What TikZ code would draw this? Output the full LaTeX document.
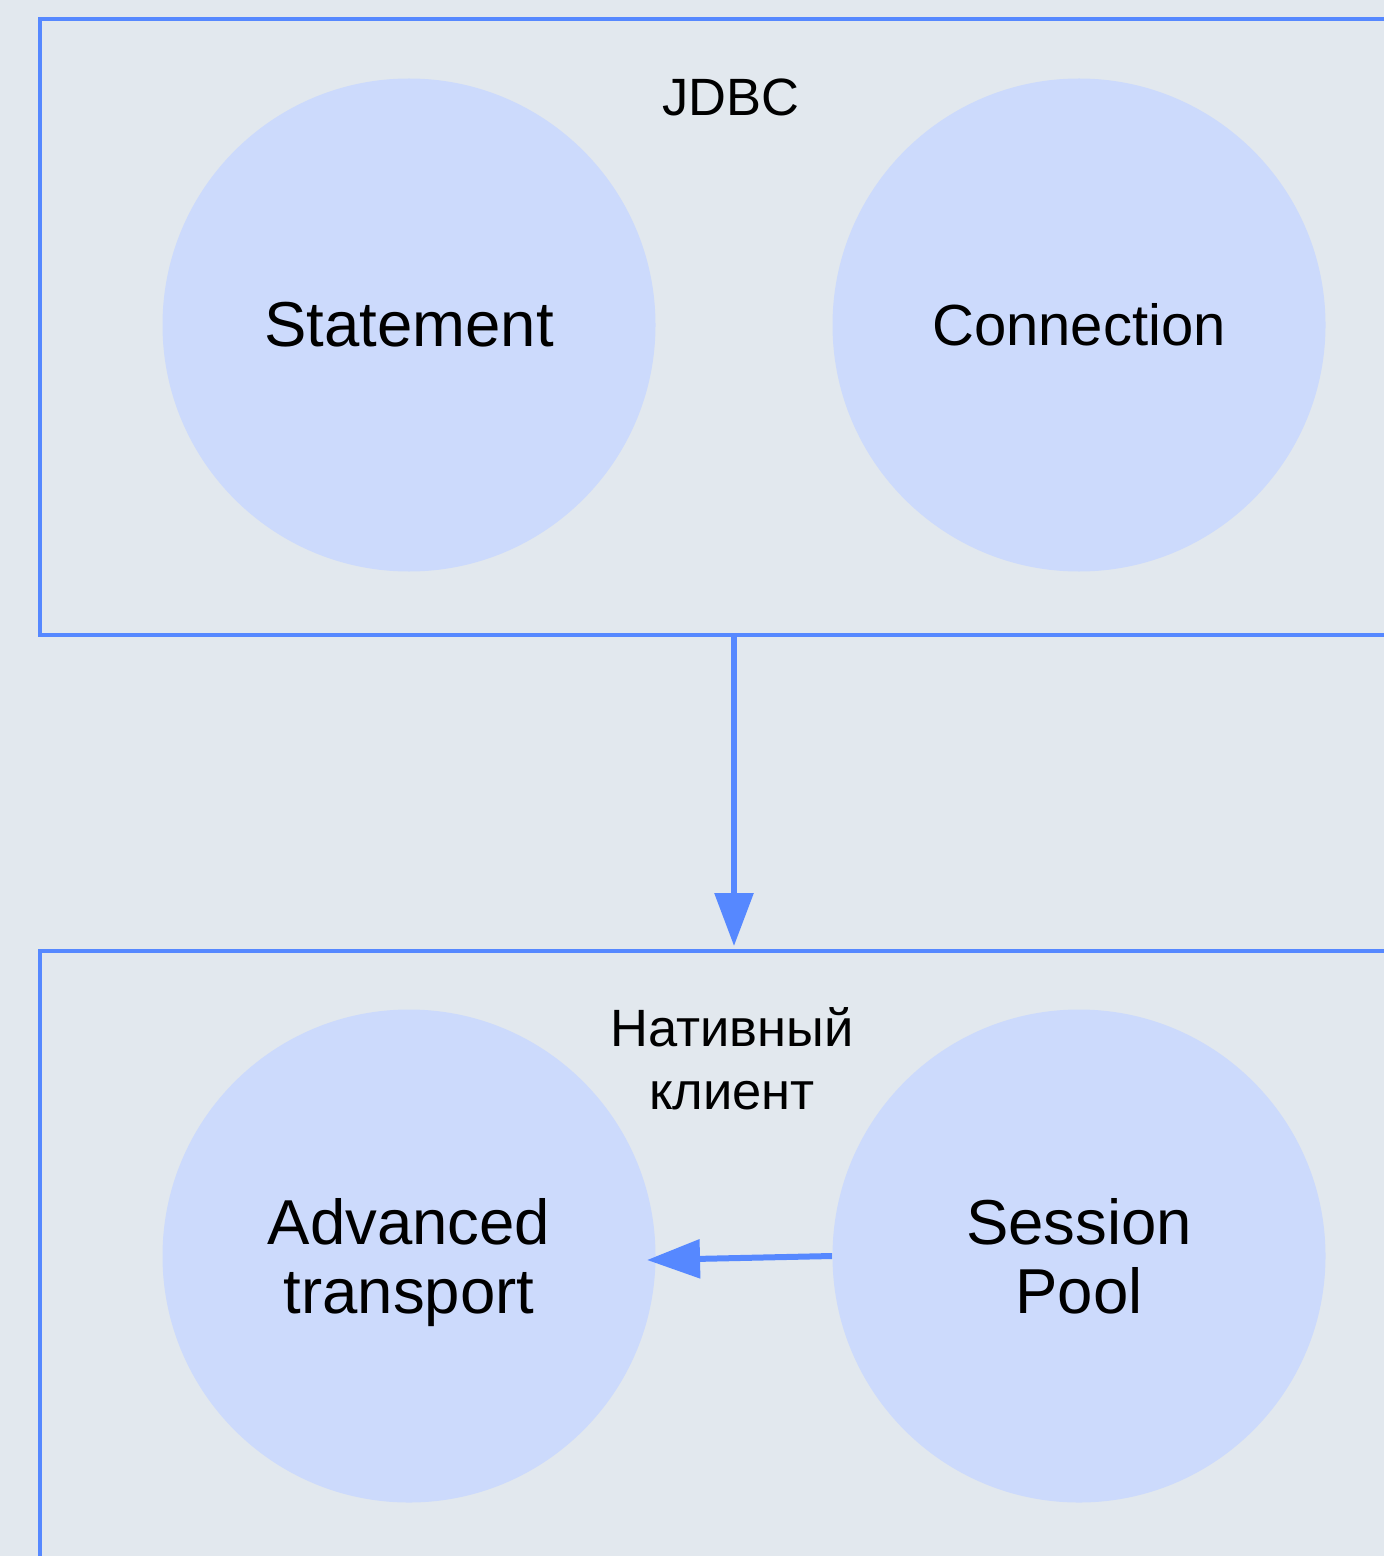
\documentclass[tikz,border=0pt]{standalone}
\usepackage{fontspec}
\setmainfont{Liberation Sans}
\usetikzlibrary{arrows.meta}
\definecolor{bgc}{RGB}{226,232,238}
\definecolor{nodefill}{RGB}{204,218,252}
\definecolor{edgeblue}{RGB}{86,136,255}
\tikzset{
  cluster/.style={draw=edgeblue, line width=2pt, rectangle, inner sep=0pt},
  circ/.style={circle, fill=nodefill, minimum size=246.5pt, inner sep=0pt,
    align=center, font=\fontsize{31.75pt}{34.5pt}\selectfont},
  lbl/.style={inner sep=0pt, align=center, font=\fontsize{26.25pt}{31.5pt}\selectfont},
  conn/.style={draw=edgeblue, line width=3pt,
    -{Triangle[width=19pt,length=26.5pt]}}
}
\begin{document}
\begin{tikzpicture}[x=0.5pt,y=-0.5pt]
  \useasboundingbox (0,0) rectangle (1384,1556);
  \fill[bgc] (0,0) rectangle (1384,1556);
  \clip (0,0) rectangle (1384,1556);

  % clusters
  \node[cluster, minimum width=694pt, minimum height=308pt] (jdbc) at (734,327) {};
  \node[cluster, minimum width=694pt, minimum height=308pt] (native) at (734,1259) {};
  \node[lbl] (jdbcLbl) at (731,97) {JDBC};
  \node[lbl] (nativeLbl) at (732,1059) {Нативный\\клиент};

  % components
  \node[circ] (stmt) at (409,325) {Statement};
  \node[circ, font=\fontsize{29pt}{34.5pt}\selectfont] (conn) at (1079,325) {Connection};
  \node[circ] (adv) at (409,1256) {Advanced\\\smash{transport}};
  \node[circ] (pool) at (1079,1256) {Session\\Pool};

  % edges
  \coordinate (advTip) at (647,1260);
  \draw[conn, shorten >=1.5pt] (jdbc.south) -- (native.north);
  \draw[conn] (pool.west) -- (advTip);
\end{tikzpicture}
\end{document}
